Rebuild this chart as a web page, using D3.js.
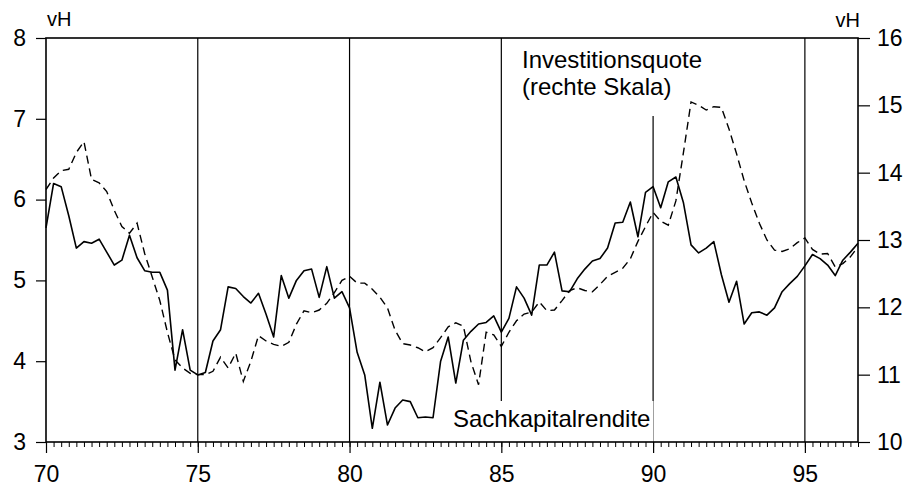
<!DOCTYPE html>
<html>
<head>
<meta charset="utf-8">
<script src="https://cdn.jsdelivr.net/npm/d3@7"></script>
<style>
  html, body { margin: 0; padding: 0; background: #fff; }
  svg { display: block; font-family: "Liberation Sans", Arial, Helvetica, sans-serif; }
</style>
</head>
<body>
<div id="chart"></div>
<script>
const width = 919;
const height = 487;

// Quartalswerte ab 1970, Q1
const startYear = 70;
const endYear = 96.75;

// Sachkapitalrendite (linke Skala, vH)
const rendite = [
  5.65, 6.2, 6.16, 5.8, 5.4, 5.48, 5.46, 5.51,
  5.35, 5.19, 5.25, 5.56, 5.28, 5.12, 5.1, 5.1,
  4.88, 3.89, 4.39, 3.89, 3.83, 3.86, 4.25, 4.39,
  4.92, 4.9, 4.8, 4.72, 4.84, 4.58, 4.3, 5.06,
  4.78, 5.0, 5.12, 5.14, 4.79, 5.17, 4.78, 4.86,
  4.66, 4.11, 3.83, 3.17, 3.74, 3.21, 3.42, 3.52,
  3.5, 3.3, 3.31, 3.3, 4.0, 4.3, 3.73, 4.26,
  4.37, 4.46, 4.48, 4.56, 4.36, 4.53, 4.92, 4.78,
  4.57, 5.19, 5.19, 5.35, 4.87, 4.86, 5.02, 5.14,
  5.24, 5.27, 5.4, 5.71, 5.72, 5.97, 5.54, 6.09,
  6.16, 5.9, 6.22, 6.28, 5.96, 5.44, 5.34, 5.4,
  5.48, 5.07, 4.73, 4.99, 4.46, 4.6, 4.61, 4.57,
  4.66, 4.86, 4.96, 5.05, 5.18, 5.32, 5.27, 5.19,
  5.06, 5.25, 5.35, 5.46
];

// Investitionsquote (rechte Skala, vH)
const quote = [
  13.75, 13.92, 14.03, 14.05, 14.3, 14.46, 13.9, 13.85,
  13.72, 13.44, 13.2, 13.1, 13.25, 12.8, 12.45, 12.1,
  11.63, 11.22, 11.1, 11.02, 11.0, 11.0, 11.05, 11.26,
  11.1, 11.32, 10.9, 11.2, 11.58, 11.5, 11.45, 11.42,
  11.48, 11.75, 11.95, 11.92, 11.96, 12.06, 12.22, 12.4,
  12.46, 12.36, 12.36, 12.27, 12.15, 11.99, 11.66, 11.46,
  11.44, 11.4, 11.34, 11.4, 11.55, 11.71, 11.77, 11.72,
  11.19, 10.85, 11.63, 11.59, 11.42, 11.63, 11.8, 11.9,
  11.93, 12.08, 11.95, 11.96, 12.1, 12.25, 12.29, 12.25,
  12.23, 12.34, 12.46, 12.52, 12.58, 12.72, 12.98, 13.2,
  13.41, 13.28, 13.22, 13.58, 14.3, 15.05, 15.0, 14.93,
  14.98, 14.97, 14.65, 14.28, 13.88, 13.55, 13.25, 13.0,
  12.85, 12.83, 12.87, 12.96, 13.03, 12.86, 12.79, 12.8,
  12.6, 12.65, 12.75, 12.9
];

const xTicks = [70, 75, 80, 85, 90, 95];
const gridYears = [75, 80, 85, 90, 95];
const leftTicks = [3, 4, 5, 6, 7, 8];
const rightTicks = [10, 11, 12, 13, 14, 15, 16];

const quarters = rendite.map((d, i) => startYear + i / 4);
const minorTicks = d3.range(startYear, endYear + 0.001, 0.25);

const margin = { top: 38, right: 61, bottom: 45, left: 46 };
const x0 = margin.left, x1 = width - margin.right;
const y0 = margin.top, y1 = height - margin.bottom;

const svg = d3.select("#chart")
  .append("svg")
  .attr("width", width)
  .attr("height", height)
  .attr("viewBox", `0 0 ${width} ${height}`);

const x = d3.scaleLinear().domain([startYear, endYear]).range([x0, x1]);
const yL = d3.scaleLinear().domain([3, 8]).range([y1, y0]);
const yR = d3.scaleLinear().domain([10, 16]).range([y1, y0]);

// senkrechte Linien
svg.append("g")
  .selectAll("line")
  .data(gridYears)
  .enter()
  .append("line")
  .attr("x1", d => x(d)).attr("x2", d => x(d))
  .attr("y1", y0).attr("y2", y1)
  .attr("stroke", "#000")
  .attr("stroke-width", 1.2);

// Beschriftungen (mit weißem Hintergrund über den Gitterlinien)
const labelBg = svg.append("g");
const labels = svg.append("g")
  .attr("font-size", 24)
  .attr("fill", "#000");

const topLabel = labels.append("text")
  .attr("x", 522).attr("y", 68);
topLabel.append("tspan").attr("x", 522).text("Investitionsquote");
topLabel.append("tspan").attr("x", 522).attr("dy", 27).text("(rechte Skala)");

const botLabel = labels.append("text")
  .attr("x", 453).attr("y", 427)
  .text("Sachkapitalrendite");

function maskBehind(node, padTop, padBottom) {
  const b = node.getBBox();
  labelBg.append("rect")
    .attr("x", b.x - 3)
    .attr("y", b.y - padTop)
    .attr("width", b.width + 6)
    .attr("height", b.height + padTop + padBottom)
    .attr("fill", "#fff");
}
maskBehind(topLabel.node(), 30, 16);
maskBehind(botLabel.node(), 4, 12);

// Linien
const lineL = d3.line()
  .x((d, i) => x(quarters[i]))
  .y(d => yL(d));
const lineR = d3.line()
  .x((d, i) => x(quarters[i]))
  .y(d => yR(d));

svg.append("path")
  .datum(quote)
  .attr("d", lineR)
  .attr("fill", "none")
  .attr("stroke", "#000")
  .attr("stroke-width", 1.4)
  .attr("stroke-dasharray", "8,5");

svg.append("path")
  .datum(rendite)
  .attr("d", lineL)
  .attr("fill", "none")
  .attr("stroke", "#000")
  .attr("stroke-width", 1.6)
  .attr("stroke-linejoin", "round");

// Rahmen
svg.append("rect")
  .attr("x", x0).attr("y", y0)
  .attr("width", x1 - x0).attr("height", y1 - y0)
  .attr("fill", "none")
  .attr("stroke", "#000")
  .attr("stroke-width", 1.6);

// Achsen
function styleAxis(g, size) {
  g.select(".domain").remove();
  g.selectAll(".tick line").attr("stroke", "#000").attr("stroke-width", 1.2);
  g.selectAll(".tick text")
    .attr("fill", "#000")
    .attr("font-size", size)
    .attr("font-family", "Liberation Sans, Arial, sans-serif");
}

svg.append("g")
  .attr("transform", `translate(${x0},0)`)
  .call(d3.axisLeft(yL).tickValues(leftTicks).tickSize(10).tickPadding(10).tickFormat(d3.format("d")))
  .call(g => styleAxis(g, 23));

svg.append("g")
  .attr("transform", `translate(${x1},0)`)
  .call(d3.axisRight(yR).tickValues(rightTicks).tickSize(12).tickPadding(7).tickFormat(d3.format("d")))
  .call(g => styleAxis(g, 23));

svg.append("g")
  .attr("transform", `translate(0,${y1})`)
  .call(d3.axisBottom(x).tickValues(minorTicks).tickSize(5).tickFormat(""))
  .call(g => styleAxis(g, 23))
  .selectAll(".tick line").attr("stroke-width", 1);

svg.append("g")
  .attr("transform", `translate(0,${y1})`)
  .call(d3.axisBottom(x).tickValues(xTicks).tickSize(11).tickPadding(13).tickFormat(d3.format("d")))
  .call(g => styleAxis(g, 23));

// Einheiten
svg.append("text")
  .attr("x", x0 + 1).attr("y", 26)
  .attr("font-size", 20)
  .text("vH");
svg.append("text")
  .attr("x", x1 + 2).attr("y", 27)
  .attr("font-size", 20)
  .attr("text-anchor", "end")
  .text("vH");
</script>
</body>
</html>
